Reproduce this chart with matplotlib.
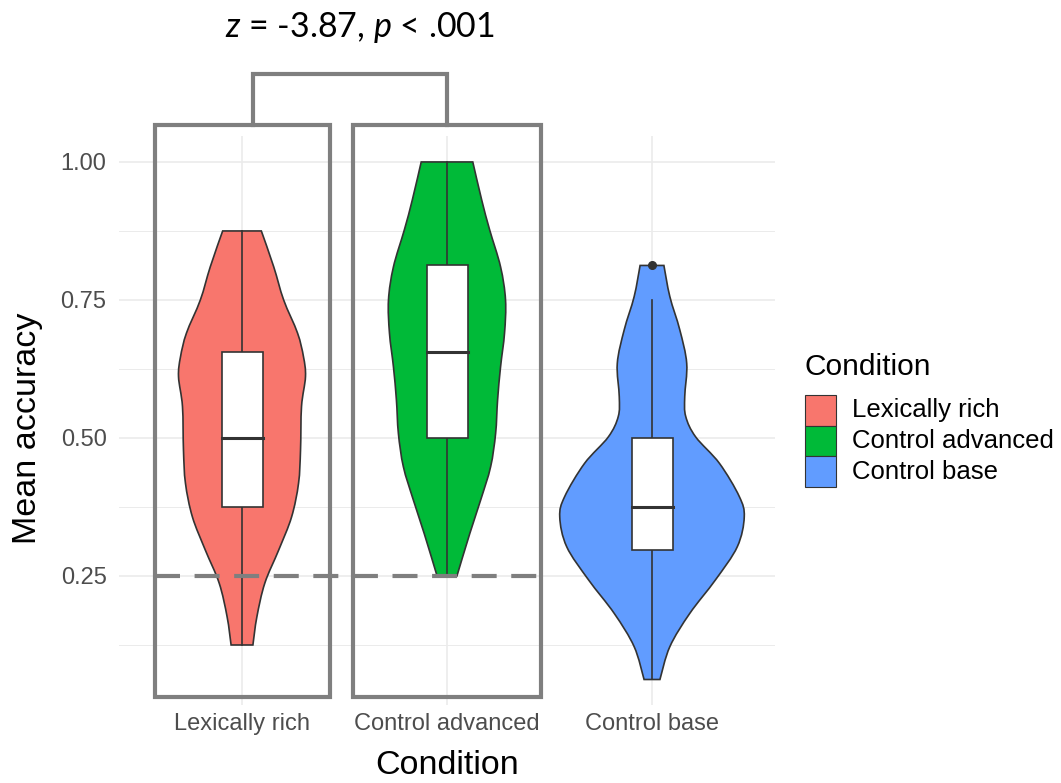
import matplotlib
matplotlib.use("Agg")
import matplotlib.pyplot as plt
import numpy as np
from matplotlib.patches import PathPatch, Rectangle
from matplotlib.path import Path

CATEGORIES = ["Lexically rich", "Control advanced", "Control base"]
FILLS = ["#F8766D", "#00BA38", "#619CFF"]

# violin outlines: accuracy level and relative half width
LEX_LEVELS = [0.875, 0.810, 0.750, 0.690, 0.647, 0.611, 0.557, 0.478, 0.418,
              0.357, 0.297, 0.237, 0.176, 0.125]
LEX_DENS = [19.5, 32, 42, 56, 62, 64, 60, 59, 57, 50, 37, 23, 15, 11]

ADV_LEVELS = [1.0, 0.931, 0.877, 0.810, 0.750, 0.690, 0.629, 0.569, 0.508,
              0.448, 0.388, 0.327, 0.25]
ADV_DENS = [26, 35, 43, 54, 59, 58, 54, 51, 49, 44, 34, 23, 10]

BASE_LEVELS = [0.8125, 0.756, 0.696, 0.635, 0.575, 0.539, 0.502, 0.454, 0.394,
               0.357, 0.303, 0.243, 0.182, 0.122, 0.0625]
BASE_DENS = [12, 18, 28, 35, 33, 34, 44, 68, 88, 93, 86, 64, 38, 18, 8]

# boxplot stats per condition
BOX_LOW = [0.125, 0.25, 0.0625]
BOX_Q1 = [0.375, 0.5, 0.297]
BOX_MED = [0.5, 0.656, 0.375]
BOX_Q3 = [0.656, 0.8125, 0.5]
BOX_HIGH = [0.875, 1.0, 0.75]
OUTLIERS = [[], [], [0.8125]]

CHANCE = 0.25
STAT_LABEL = r"$z$ = -3.87, $p$ < .001"

plt.rcParams["font.family"] = ["Liberation Sans", "DejaVu Sans"]
plt.rcParams["mathtext.fontset"] = "custom"
plt.rcParams["mathtext.rm"] = "Lato"
plt.rcParams["mathtext.it"] = "Lato:italic"


def curve_through(pts):
    # bezier (catmull-rom) segments through the outline points
    out = []
    n = len(pts)
    for k in range(n - 1):
        p0, p1 = pts[max(k - 1, 0)], pts[k]
        p2, p3 = pts[k + 1], pts[min(k + 2, n - 1)]
        out += [p1 + (p2 - p0) / 6, p2 - (p3 - p1) / 6, p2]
    return out


def violin_path(x, levels, half):
    right = np.column_stack([x + half, levels])
    left = np.column_stack([x - half, levels])[::-1]
    verts = [right[0]] + curve_through(right) + [left[0]] + curve_through(left)
    verts.append(right[0])
    codes = ([Path.MOVETO] + [Path.CURVE4] * (3 * (len(right) - 1)) + [Path.LINETO]
             + [Path.CURVE4] * (3 * (len(left) - 1)) + [Path.CLOSEPOLY])
    return Path(np.array(verts), codes)


W, H = 1061, 783
fig = plt.figure(figsize=(W / 100, H / 100), dpi=100)
ax = fig.add_axes([119 / W, 78 / H, 656 / W, 569 / H])
ax.set_xlim(0.4, 3.6)
ax.set_ylim(0.0163, 1.047)

outline = "#333333"
profiles = [(LEX_LEVELS, LEX_DENS), (ADV_LEVELS, ADV_DENS), (BASE_LEVELS, BASE_DENS)]
scale = 0.45 / max(max(d) for _, d in profiles)

for i, (lev, dens) in enumerate(profiles):
    x = i + 1
    ax.add_patch(PathPatch(violin_path(x, np.array(lev), np.array(dens) * scale),
                           fc=FILLS[i], ec=outline, lw=1.2, zorder=2))
    ax.plot([x, x], [BOX_LOW[i], BOX_Q1[i]], color=outline, lw=1.2, zorder=3)
    ax.plot([x, x], [BOX_Q3[i], BOX_HIGH[i]], color=outline, lw=1.2, zorder=3)
    ax.add_patch(Rectangle((x - 0.1, BOX_Q1[i]), 0.2, BOX_Q3[i] - BOX_Q1[i],
                           fc="white", ec=outline, lw=1.2, zorder=3))
    ax.plot([x - 0.1, x + 0.1], [BOX_MED[i]] * 2, color=outline, lw=2.2, zorder=4)
    if OUTLIERS[i]:
        ax.plot([x] * len(OUTLIERS[i]), OUTLIERS[i], "o", color=outline,
                ms=5.5, zorder=4)

# theme_minimal look
ax.set_xticks([1, 2, 3], CATEGORIES)
ax.set_yticks([0.25, 0.5, 0.75, 1.0], ["0.25", "0.50", "0.75", "1.00"])
ax.set_yticks([0.125, 0.375, 0.625, 0.875], minor=True)
ax.grid(True, which="major", color="#EBEBEB", lw=1.2, zorder=0)
ax.grid(True, which="minor", axis="y", color="#EBEBEB", lw=0.7, zorder=0)
ax.set_axisbelow(True)
for s in ax.spines.values():
    s.set_visible(False)
ax.tick_params(which="both", length=0)
ax.tick_params(axis="y", labelsize=17, labelcolor="#4D4D4D", pad=9)
ax.tick_params(axis="x", labelsize=17, labelcolor="#4D4D4D", pad=6)

fig.text(28 / W, 1 - 428 / H, "Mean accuracy", rotation=90, ha="center",
         va="center", fontsize=24.5)
fig.text(447 / W, 1 - 766 / H, "Condition", ha="center", va="center",
         fontsize=24.5)

# annotation frames, bracket and chance line
grey = "#7F7F7F"
for x0, x1 in [(0.576, 1.429), (1.541, 2.459)]:
    ax.add_patch(Rectangle((x0, 0.031), x1 - x0, 1.067 - 0.031, fill=False,
                           ec=grey, lw=3, clip_on=False, zorder=6))
ax.plot([1.054, 1.054, 2.0, 2.0], [1.067, 1.159, 1.159, 1.067], color=grey,
        lw=3, clip_on=False, zorder=6, solid_joinstyle="miter")
ax.plot([0.576, 2.454], [CHANCE, CHANCE], color=grey, lw=3, ls=(0, (6, 3.5)),
        zorder=6, clip_on=False)
ax.text(1.576, 1.243, STAT_LABEL, ha="center", va="center", fontsize=24.5,
        fontfamily="Lato", clip_on=False)

# legend drawn by hand so the keys touch like ggplot's
fig.text(805 / W, 1 - 367 / H, "Condition", ha="left", va="center", fontsize=21.5)
key = 30.7
for k, (lab, col) in enumerate(zip(CATEGORIES, FILLS)):
    top = 395 + key * k
    fig.patches.append(Rectangle((805 / W, 1 - (top + key) / H), 31 / W, key / H,
                                 transform=fig.transFigure, fc=col, ec=outline,
                                 lw=0.8))
    fig.text(852 / W, 1 - (top + key / 2) / H, lab, ha="left", va="center",
             fontsize=18.5)

fig.savefig("out.png", dpi=100)
